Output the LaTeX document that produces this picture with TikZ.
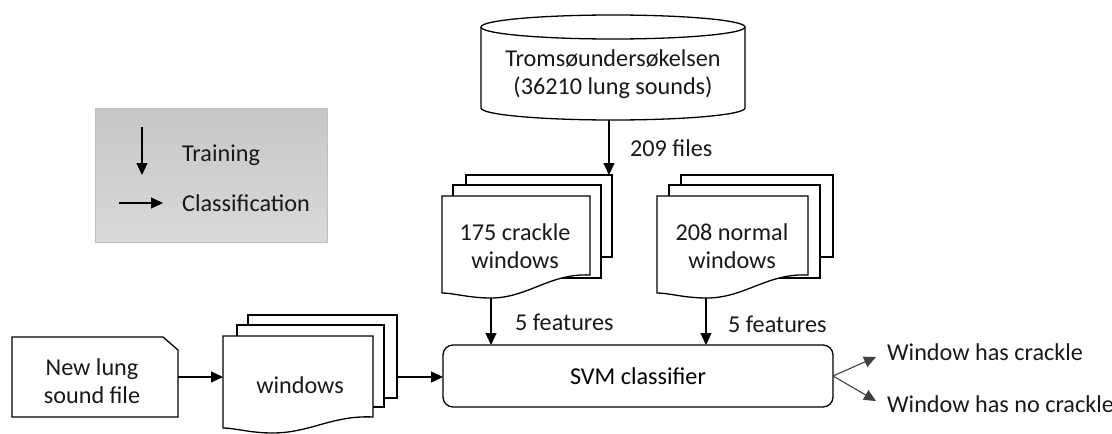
\documentclass[tikz,border=0pt]{standalone}
\usepackage{fontspec}
\setmainfont{Carlito}
\usetikzlibrary{arrows.meta,shapes.misc}
\tikzset{
  sheet/.style={draw, fill=white, line width=1.3pt},
  arr/.style={line width=1.1pt, -{Triangle[length=12pt,width=11pt]}},
  txt/.style={font=\fontsize{24.2}{28.5}\selectfont, text=black!90, align=center, inner sep=0pt},
}
\newcommand{\docfront}[5]{%
  \pgfmathsetmacro{\dw}{#3-#1}%
  \draw[sheet] (#1,#2) -- (#3,#2) -- (#3,#5)
    .. controls ({#3-0.27*\dw},#5+2) and ({#3-0.42*\dw},#4-5) .. ({#1+0.33*\dw},#4-5)
    .. controls ({#1+0.18*\dw},#4-5) and ({#1+0.08*\dw},#4) .. (#1,#4) -- cycle;}
\begin{document}
\begin{tikzpicture}[x=1pt,y=1pt]
\useasboundingbox (0,0) rectangle (1112,-434);
% legend
\shade[top color=black!22, bottom color=black!15, draw=black!25, line width=1pt] (95,-108) rectangle (327,-242);
\coordinate (lgA1) at (142,-127); \coordinate (lgA2) at (142,-175);
\coordinate (lgB1) at (119,-203); \coordinate (lgB2) at (163,-203);
\draw[arr] (lgA1) -- (lgA2);
\draw[arr] (lgB1) -- (lgB2);
\node[txt, anchor=west] (train) at (182,-155) {Training};
\node[txt, anchor=west] (clas) at (182,-203) {Classification};
% cylinder
\draw[sheet] (481,-27) -- (481,-108) arc (180:360:132 and 12) -- (745,-27);
\draw[sheet] (613,-27) ellipse (132 and 12);
\node[txt] (cyl) at (613,-74) {Tromsøundersøkelsen\\(36210 lung sounds)};
\coordinate (cylB) at (609,-120);
% crackle stack
\draw[sheet] (466,-175) rectangle (612,-257);
\draw[sheet] (453,-185) rectangle (601,-278);
\docfront{442}{-196}{590}{-293}{-275}
\node[txt] (crk) at (515,-246) {175 crackle\\windows};
\coordinate (crkT) at (609,-175);
\coordinate (crkB) at (491,-298);
% normal stack
\draw[sheet] (681,-175) rectangle (833,-257);
\draw[sheet] (669,-185) rectangle (820,-278);
\docfront{657}{-196}{808}{-293}{-275}
\node[txt] (nrm) at (732,-246) {208 normal\\windows};
\coordinate (nrmB) at (706,-298);
% windows stack
\draw[sheet] (248,-315) rectangle (397,-398);
\draw[sheet] (237,-325) rectangle (384,-407);
\docfront{223}{-336}{373}{-428}{-417}
\node[txt] (win) at (300,-385) {windows};
% new lung sound file
\draw[sheet] (12,-337) -- (163,-337) -- (178,-350) -- (178,-417) -- (12,-417) -- cycle;
\node[txt] (new) at (92,-381) {New lung\\sound file};
% SVM
\node[draw, line width=1.3pt, rounded corners=10pt, minimum width=390pt, minimum height=62pt, inner sep=0pt, font=\fontsize{24.2}{28.5}\selectfont] (svm) at (638,-376) {SVM classifier};
% outputs
\node[txt, anchor=west] (out1) at (887,-352) {Window has crackle};
\node[txt, anchor=west] (out2) at (887,-404) {Window has no crackle};
% labels
\node[txt, anchor=west] (l209) at (630,-148) {209 files};
\node[txt, anchor=west] (lf1) at (515,-322) {5 features};
\node[txt, anchor=west] (lf2) at (728,-324) {5 features};
% connectors
\coordinate (newR) at (178,-377);
\coordinate (winL) at (223,-377);
\coordinate (winR) at (397,-377);
\coordinate (svmL) at (443,-377);
\coordinate (svmR) at (833,-376);
\coordinate (svmT1) at (491,-345);
\coordinate (svmT2) at (706,-345);
\coordinate (o1) at (876,-357);
\coordinate (o2) at (876,-401);
\draw[arr] (cylB) -- (crkT);
\draw[arr] (crkB) -- (svmT1);
\draw[arr] (nrmB) -- (svmT2);
\draw[arr] (newR) -- (winL);
\draw[arr] (winR) -- (svmL);
\draw[arr, draw=black!75] (svmR) -- (o1);
\draw[arr, draw=black!75] (svmR) -- (o2);
\end{tikzpicture}
\end{document}
